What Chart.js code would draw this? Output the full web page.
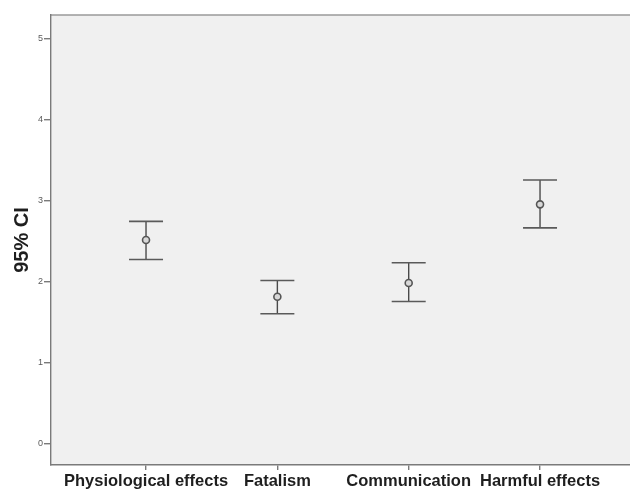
<!DOCTYPE html>
<html>
<head>
<meta charset="utf-8">
<script src="https://cdn.jsdelivr.net/npm/chart.js@4"></script>
<style>
  html, body { margin: 0; padding: 0; background: #ffffff; overflow: hidden; }
  #wrap { width: 630px; height: 490px; }
</style>
</head>
<body>
<div id="wrap"><canvas id="ci" width="630" height="490"></canvas></div>
<script>
// Mean score and 95% confidence interval per dimension
const categories = ['Physiological effects', 'Fatalism', 'Communication', 'Harmful effects'];
const means = [2.51, 1.81, 1.98, 2.95];
const lowerCI = [2.27, 1.60, 1.75, 2.66];
const upperCI = [2.74, 2.01, 2.23, 3.25];
const yTicks = [0, 1, 2, 3, 4, 5];

const points = categories.map((c, i) => ({ x: i, y: means[i] }));

// Plot background and the frame line along the top
const framePlugin = {
  id: 'frame',
  beforeDraw(chart) {
    const { ctx, chartArea: a } = chart;
    ctx.save();
    ctx.fillStyle = '#f0f0f0';
    ctx.fillRect(a.left, a.top, a.right - a.left, a.bottom - a.top);
    ctx.strokeStyle = '#9a9a9a';
    ctx.lineWidth = 1.5;
    ctx.beginPath();
    ctx.moveTo(a.left, a.top);
    ctx.lineTo(a.right, a.top);
    ctx.stroke();
    ctx.restore();
  }
};

// Whiskers with end caps for each confidence interval
const errorBarPlugin = {
  id: 'errorBars',
  beforeDatasetsDraw(chart) {
    const { ctx, scales: { x, y } } = chart;
    const capHalf = 17;
    ctx.save();
    categories.forEach((c, i) => {
      const px = x.getPixelForValue(i);
      const yLo = y.getPixelForValue(lowerCI[i]);
      const yHi = y.getPixelForValue(upperCI[i]);
      ctx.strokeStyle = '#4a4a4a';
      ctx.lineWidth = 1.4;
      ctx.beginPath();
      ctx.moveTo(px, yHi);
      ctx.lineTo(px, yLo);
      ctx.stroke();
      ctx.strokeStyle = '#5a5a5a';
      ctx.lineWidth = 1.6;
      ctx.beginPath();
      ctx.moveTo(px - capHalf, yHi);
      ctx.lineTo(px + capHalf, yHi);
      ctx.moveTo(px - capHalf, yLo);
      ctx.lineTo(px + capHalf, yLo);
      ctx.stroke();
    });
    ctx.restore();
  }
};

new Chart(document.getElementById('ci'), {
  type: 'scatter',
  data: {
    datasets: [{
      data: points,
      pointRadius: 3.5,
      pointHoverRadius: 3.5,
      pointBorderWidth: 1.6,
      pointBorderColor: '#555555',
      pointBackgroundColor: '#d8d8d8'
    }]
  },
  options: {
    responsive: false,
    animation: false,
    events: [],
    layout: { autoPadding: false, padding: { top: 15, left: 0, right: 0, bottom: 0 } },
    plugins: { legend: { display: false }, tooltip: { enabled: false } },
    scales: {
      x: {
        type: 'linear',
        min: -0.7235,
        max: 3.685,
        afterBuildTicks(scale) { scale.ticks = categories.map((c, i) => ({ value: i })); },
        afterFit(scale) {
          scale.height = 25;
          scale.paddingLeft = 0;
          scale.paddingRight = 0;
        },
        border: { display: true, color: '#7a7a7a', width: 1.4 },
        grid: { drawOnChartArea: false, drawTicks: true, tickLength: 5, color: '#7a7a7a', lineWidth: 1.4 },
        ticks: {
          autoSkip: false,
          maxRotation: 0,
          minRotation: 0,
          padding: 2,
          color: '#1e1e1e',
          font: { family: '"Liberation Sans", Arial, sans-serif', size: 16.5, weight: 'bold' },
          callback: (v) => categories[v]
        }
      },
      y: {
        min: -0.268,
        max: 5.288,
        afterBuildTicks(scale) { scale.ticks = yTicks.map(v => ({ value: v })); },
        afterFit(scale) {
          scale.width = 51;
          scale.paddingTop = 0;
          scale.paddingBottom = 0;
        },
        border: { display: true, color: '#7a7a7a', width: 1.4 },
        grid: { drawOnChartArea: false, drawTicks: true, tickLength: 7, color: '#7a7a7a', lineWidth: 1.4 },
        ticks: {
          padding: 1,
          color: '#5a5a5a',
          font: { family: '"Liberation Sans", Arial, sans-serif', size: 9 },
          callback: (v) => String(v)
        },
        title: {
          display: true,
          text: '95% CI',
          color: '#1e1e1e',
          padding: { top: 10, bottom: 0 },
          font: { family: '"Liberation Sans", Arial, sans-serif', size: 20, weight: 'bold' }
        }
      }
    }
  },
  plugins: [framePlugin, errorBarPlugin]
});
</script>
</body>
</html>
